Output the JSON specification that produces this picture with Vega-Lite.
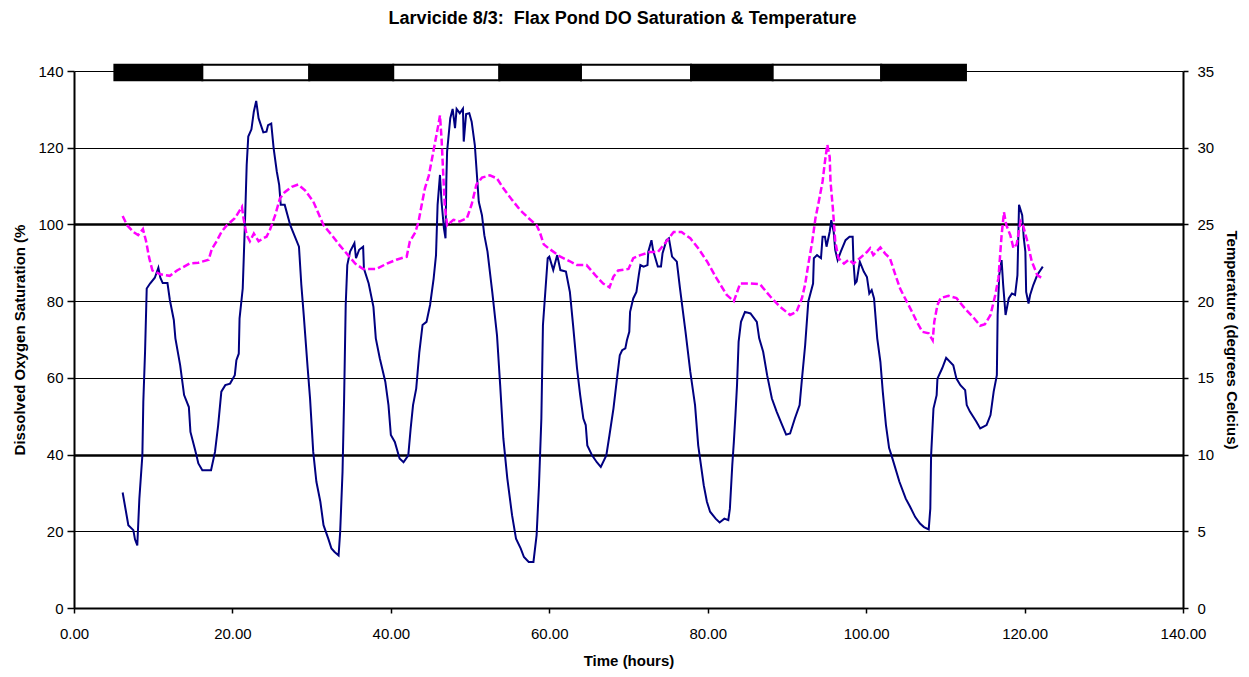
{
  "$schema": "https://vega.github.io/schema/vega-lite/v6.json",
  "width": 1109,
  "height": 537,
  "autosize": {"type": "none"},
  "padding": {"left": 74, "top": 71, "right": 66, "bottom": 69},
  "background": "white",
  "config": {"view": {"stroke": null}, "font": "Liberation Sans"},
  "title": {"text": "Larvicide 8/3:\u00a0 Flax Pond DO Saturation & Temperature", "fontSize": 18, "fontWeight": "bold", "font": "Liberation Sans", "anchor": "middle", "offset": 36, "dx": -6, "color": "black"},
  "datasets": {
    "bars": [
      {"start": 5.1, "end": 16.2, "phase": "night", "lo": 137.6, "hi": 141.6},
      {"start": 16.2, "end": 29.7, "phase": "day", "lo": 137.6, "hi": 141.6},
      {"start": 29.7, "end": 40.3, "phase": "night", "lo": 137.6, "hi": 141.6},
      {"start": 40.3, "end": 53.7, "phase": "day", "lo": 137.6, "hi": 141.6},
      {"start": 53.7, "end": 64.0, "phase": "night", "lo": 137.6, "hi": 141.6},
      {"start": 64.0, "end": 77.9, "phase": "day", "lo": 137.6, "hi": 141.6},
      {"start": 77.9, "end": 88.2, "phase": "night", "lo": 137.6, "hi": 141.6},
      {"start": 88.2, "end": 101.9, "phase": "day", "lo": 137.6, "hi": 141.6},
      {"start": 101.9, "end": 112.6, "phase": "night", "lo": 137.6, "hi": 141.6}
    ],
    "do": [
      {"hour": 6.14, "do": 30.1}, {"hour": 6.86, "do": 21.6}, {"hour": 7.49, "do": 20.3}, {"hour": 7.7, "do": 17.9}, {"hour": 7.99, "do": 16.3},
      {"hour": 8.25, "do": 28.5}, {"hour": 8.63, "do": 39.8}, {"hour": 8.75, "do": 53.7}, {"hour": 8.97, "do": 66.8}, {"hour": 9.18, "do": 83.3},
      {"hour": 9.6, "do": 84.6}, {"hour": 10.2, "do": 86.1}, {"hour": 10.65, "do": 88.7}, {"hour": 10.9, "do": 86.1}, {"hour": 11.2, "do": 84.7},
      {"hour": 11.8, "do": 84.7}, {"hour": 12.1, "do": 80.3}, {"hour": 12.6, "do": 75.1}, {"hour": 12.8, "do": 70.3}, {"hour": 13.4, "do": 63.3},
      {"hour": 13.9, "do": 55.5}, {"hour": 14.5, "do": 52.4}, {"hour": 14.7, "do": 45.9}, {"hour": 15.3, "do": 41.1}, {"hour": 15.7, "do": 37.7},
      {"hour": 16.2, "do": 35.9}, {"hour": 17.3, "do": 35.9}, {"hour": 17.8, "do": 40.7}, {"hour": 18.2, "do": 47.7}, {"hour": 18.6, "do": 56.4},
      {"hour": 19.1, "do": 58.1}, {"hour": 19.7, "do": 58.5}, {"hour": 20.3, "do": 60.7}, {"hour": 20.5, "do": 64.6}, {"hour": 20.8, "do": 66.3},
      {"hour": 20.9, "do": 75.5}, {"hour": 21.3, "do": 83.3}, {"hour": 21.6, "do": 101.6}, {"hour": 21.8, "do": 115.5}, {"hour": 22.0, "do": 122.9},
      {"hour": 22.4, "do": 124.8}, {"hour": 22.7, "do": 129.4}, {"hour": 23.0, "do": 132.2}, {"hour": 23.3, "do": 127.7}, {"hour": 23.9, "do": 124.0},
      {"hour": 24.3, "do": 124.2}, {"hour": 24.5, "do": 125.9}, {"hour": 24.9, "do": 126.3}, {"hour": 25.2, "do": 119.9}, {"hour": 25.6, "do": 113.8},
      {"hour": 25.9, "do": 110.3}, {"hour": 26.1, "do": 105.1}, {"hour": 26.6, "do": 105.1}, {"hour": 27.3, "do": 99.8}, {"hour": 28.4, "do": 94.2},
      {"hour": 28.7, "do": 84.2}, {"hour": 29.0, "do": 76.4}, {"hour": 29.5, "do": 62.5}, {"hour": 29.8, "do": 54.6}, {"hour": 30.2, "do": 40.7},
      {"hour": 30.6, "do": 32.9}, {"hour": 31.1, "do": 27.7}, {"hour": 31.5, "do": 21.6}, {"hour": 32.1, "do": 18.1}, {"hour": 32.5, "do": 15.5},
      {"hour": 32.9, "do": 14.6}, {"hour": 33.4, "do": 13.7}, {"hour": 33.6, "do": 19.8}, {"hour": 33.9, "do": 35.5}, {"hour": 34.1, "do": 54.6},
      {"hour": 34.3, "do": 79.0}, {"hour": 34.5, "do": 89.4}, {"hour": 34.85, "do": 92.9}, {"hour": 35.4, "do": 95.1}, {"hour": 35.6, "do": 91.2},
      {"hour": 36.0, "do": 93.4}, {"hour": 36.5, "do": 94.2}, {"hour": 36.6, "do": 88.5}, {"hour": 37.2, "do": 84.6}, {"hour": 37.8, "do": 78.5},
      {"hour": 38.1, "do": 70.3}, {"hour": 38.6, "do": 65.1}, {"hour": 39.3, "do": 59.0}, {"hour": 39.7, "do": 52.9}, {"hour": 40.0, "do": 45.1},
      {"hour": 40.5, "do": 43.3}, {"hour": 41.1, "do": 39.0}, {"hour": 41.6, "do": 38.0}, {"hour": 42.2, "do": 39.8}, {"hour": 42.5, "do": 46.8},
      {"hour": 42.8, "do": 52.9}, {"hour": 43.2, "do": 57.2}, {"hour": 43.6, "do": 66.8}, {"hour": 44.0, "do": 73.8}, {"hour": 44.5, "do": 74.6},
      {"hour": 44.95, "do": 79.0}, {"hour": 45.4, "do": 85.9}, {"hour": 45.7, "do": 92.0}, {"hour": 45.9, "do": 105.1}, {"hour": 46.2, "do": 112.9},
      {"hour": 46.4, "do": 105.9}, {"hour": 46.7, "do": 99.0}, {"hour": 46.9, "do": 96.4}, {"hour": 47.0, "do": 111.1}, {"hour": 47.1, "do": 119.0},
      {"hour": 47.5, "do": 127.7}, {"hour": 47.8, "do": 130.1}, {"hour": 48.1, "do": 125.1}, {"hour": 48.3, "do": 130.1}, {"hour": 48.7, "do": 129.0},
      {"hour": 49.1, "do": 130.2}, {"hour": 49.2, "do": 121.6}, {"hour": 49.5, "do": 128.8}, {"hour": 49.9, "do": 129.0}, {"hour": 50.2, "do": 126.8},
      {"hour": 50.6, "do": 120.7}, {"hour": 51.1, "do": 105.9}, {"hour": 51.5, "do": 102.4}, {"hour": 51.8, "do": 97.2}, {"hour": 52.2, "do": 92.9},
      {"hour": 52.8, "do": 82.4}, {"hour": 53.4, "do": 71.1}, {"hour": 53.8, "do": 58.1}, {"hour": 54.2, "do": 44.2}, {"hour": 54.7, "do": 33.8},
      {"hour": 55.3, "do": 24.2}, {"hour": 55.8, "do": 18.1}, {"hour": 56.4, "do": 15.5}, {"hour": 56.8, "do": 13.3}, {"hour": 57.4, "do": 12.0},
      {"hour": 58.0, "do": 12.0}, {"hour": 58.4, "do": 19.0}, {"hour": 58.7, "do": 32.0}, {"hour": 59.0, "do": 49.4}, {"hour": 59.2, "do": 73.8},
      {"hour": 59.8, "do": 91.2}, {"hour": 60.0, "do": 91.6}, {"hour": 60.5, "do": 88.1}, {"hour": 61.0, "do": 92.0}, {"hour": 61.4, "do": 88.1},
      {"hour": 62.1, "do": 87.7}, {"hour": 62.6, "do": 82.4}, {"hour": 63.0, "do": 73.8}, {"hour": 63.5, "do": 62.5}, {"hour": 63.9, "do": 55.5},
      {"hour": 64.3, "do": 49.4}, {"hour": 64.6, "do": 47.7}, {"hour": 64.8, "do": 42.4}, {"hour": 65.4, "do": 39.8}, {"hour": 66.0, "do": 38.0},
      {"hour": 66.5, "do": 36.8}, {"hour": 67.2, "do": 39.8}, {"hour": 67.6, "do": 45.1}, {"hour": 68.1, "do": 52.0}, {"hour": 68.5, "do": 59.0},
      {"hour": 68.9, "do": 65.9}, {"hour": 69.2, "do": 67.2}, {"hour": 69.6, "do": 67.7}, {"hour": 69.8, "do": 69.8}, {"hour": 70.1, "do": 72.0},
      {"hour": 70.2, "do": 77.2}, {"hour": 70.6, "do": 80.7}, {"hour": 71.0, "do": 82.4}, {"hour": 71.3, "do": 86.8}, {"hour": 71.5, "do": 89.4},
      {"hour": 71.9, "do": 89.0}, {"hour": 72.4, "do": 89.4}, {"hour": 72.5, "do": 92.9}, {"hour": 72.9, "do": 95.9}, {"hour": 73.1, "do": 93.3},
      {"hour": 73.7, "do": 89.0}, {"hour": 74.1, "do": 89.0}, {"hour": 74.3, "do": 92.5}, {"hour": 74.8, "do": 95.9}, {"hour": 75.1, "do": 96.4},
      {"hour": 75.5, "do": 91.6}, {"hour": 76.1, "do": 90.3}, {"hour": 76.5, "do": 83.3}, {"hour": 77.2, "do": 72.0}, {"hour": 77.8, "do": 61.6},
      {"hour": 78.4, "do": 52.9}, {"hour": 78.8, "do": 42.4}, {"hour": 79.5, "do": 32.0}, {"hour": 79.9, "do": 27.7}, {"hour": 80.3, "do": 25.1},
      {"hour": 81.0, "do": 23.3}, {"hour": 81.5, "do": 22.3}, {"hour": 82.1, "do": 23.3}, {"hour": 82.6, "do": 22.9}, {"hour": 82.8, "do": 25.9},
      {"hour": 83.1, "do": 37.2}, {"hour": 83.3, "do": 43.3}, {"hour": 83.5, "do": 50.3}, {"hour": 83.7, "do": 58.1}, {"hour": 83.9, "do": 69.4},
      {"hour": 84.2, "do": 74.6}, {"hour": 84.7, "do": 77.2}, {"hour": 85.4, "do": 76.8}, {"hour": 86.2, "do": 74.6}, {"hour": 86.5, "do": 70.3},
      {"hour": 87.0, "do": 66.8}, {"hour": 87.5, "do": 60.7}, {"hour": 88.1, "do": 54.6}, {"hour": 88.7, "do": 51.2}, {"hour": 89.4, "do": 47.7},
      {"hour": 89.9, "do": 45.2}, {"hour": 90.4, "do": 45.5}, {"hour": 91.0, "do": 49.4}, {"hour": 91.6, "do": 52.9}, {"hour": 91.9, "do": 59.8},
      {"hour": 92.3, "do": 68.5}, {"hour": 92.7, "do": 79.9}, {"hour": 93.3, "do": 84.6}, {"hour": 93.4, "do": 91.2}, {"hour": 93.8, "do": 92.0},
      {"hour": 94.3, "do": 91.2}, {"hour": 94.5, "do": 96.8}, {"hour": 94.8, "do": 96.8}, {"hour": 95.0, "do": 94.2}, {"hour": 95.4, "do": 98.1},
      {"hour": 95.6, "do": 101.1}, {"hour": 95.9, "do": 98.1}, {"hour": 96.1, "do": 93.3}, {"hour": 96.4, "do": 90.7}, {"hour": 96.8, "do": 92.9},
      {"hour": 97.4, "do": 95.9}, {"hour": 97.9, "do": 96.8}, {"hour": 98.3, "do": 96.8}, {"hour": 98.4, "do": 90.3}, {"hour": 98.6, "do": 84.6},
      {"hour": 98.8, "do": 85.1}, {"hour": 99.2, "do": 90.3}, {"hour": 99.7, "do": 87.7}, {"hour": 100.1, "do": 86.3}, {"hour": 100.4, "do": 82.0},
      {"hour": 100.7, "do": 82.9}, {"hour": 101.0, "do": 80.7}, {"hour": 101.4, "do": 70.3}, {"hour": 101.8, "do": 64.2}, {"hour": 102.1, "do": 56.4},
      {"hour": 102.5, "do": 47.7}, {"hour": 102.9, "do": 41.7}, {"hour": 103.2, "do": 39.8}, {"hour": 104.2, "do": 32.9}, {"hour": 105.0, "do": 28.5},
      {"hour": 105.5, "do": 26.6}, {"hour": 106.2, "do": 23.7}, {"hour": 106.8, "do": 22.0}, {"hour": 107.3, "do": 21.1}, {"hour": 107.9, "do": 20.5},
      {"hour": 108.1, "do": 25.9}, {"hour": 108.2, "do": 39.8}, {"hour": 108.5, "do": 52.0}, {"hour": 108.9, "do": 55.5}, {"hour": 109.0, "do": 59.8},
      {"hour": 109.6, "do": 62.5}, {"hour": 110.1, "do": 65.2}, {"hour": 111.0, "do": 63.3}, {"hour": 111.4, "do": 59.8}, {"hour": 111.9, "do": 58.1},
      {"hour": 112.5, "do": 56.8}, {"hour": 112.7, "do": 52.9}, {"hour": 113.1, "do": 51.2}, {"hour": 113.9, "do": 48.6}, {"hour": 114.4, "do": 46.8},
      {"hour": 115.2, "do": 47.7}, {"hour": 115.7, "do": 50.3}, {"hour": 116.1, "do": 56.4}, {"hour": 116.5, "do": 60.7}, {"hour": 116.6, "do": 76.4},
      {"hour": 116.8, "do": 86.8}, {"hour": 117.1, "do": 90.7}, {"hour": 117.3, "do": 84.2}, {"hour": 117.6, "do": 76.4}, {"hour": 118.0, "do": 80.7},
      {"hour": 118.4, "do": 82.0}, {"hour": 118.8, "do": 81.6}, {"hour": 119.1, "do": 86.8}, {"hour": 119.3, "do": 105.1}, {"hour": 119.7, "do": 102.4},
      {"hour": 119.9, "do": 96.4}, {"hour": 120.1, "do": 92.9}, {"hour": 120.2, "do": 82.4}, {"hour": 120.5, "do": 79.4}, {"hour": 120.7, "do": 81.6},
      {"hour": 121.1, "do": 84.2}, {"hour": 121.6, "do": 86.8}, {"hour": 122.3, "do": 89.0}
    ],
    "temp": [
      {"hour": 6.14, "temp": 25.55}, {"hour": 6.7, "temp": 24.95}, {"hour": 7.5, "temp": 24.5}, {"hour": 8.1, "temp": 24.3}, {"hour": 8.7, "temp": 24.7},
      {"hour": 9.1, "temp": 23.9}, {"hour": 9.5, "temp": 22.8}, {"hour": 9.9, "temp": 22.0}, {"hour": 10.9, "temp": 21.75}, {"hour": 12.1, "temp": 21.65},
      {"hour": 13.0, "temp": 22.0}, {"hour": 14.6, "temp": 22.45}, {"hour": 15.7, "temp": 22.5}, {"hour": 17.0, "temp": 22.7}, {"hour": 17.4, "temp": 23.4},
      {"hour": 18.0, "temp": 23.9}, {"hour": 18.6, "temp": 24.5}, {"hour": 19.3, "temp": 24.95}, {"hour": 20.3, "temp": 25.4}, {"hour": 21.2, "temp": 26.15},
      {"hour": 21.4, "temp": 25.4}, {"hour": 21.8, "temp": 24.3}, {"hour": 22.2, "temp": 23.9}, {"hour": 22.7, "temp": 24.4}, {"hour": 23.3, "temp": 23.9},
      {"hour": 23.9, "temp": 24.1}, {"hour": 24.3, "temp": 24.2}, {"hour": 24.7, "temp": 24.6}, {"hour": 25.4, "temp": 25.6}, {"hour": 26.0, "temp": 26.7},
      {"hour": 26.6, "temp": 27.1}, {"hour": 27.5, "temp": 27.45}, {"hour": 28.3, "temp": 27.6}, {"hour": 29.2, "temp": 27.2}, {"hour": 30.2, "temp": 26.5},
      {"hour": 31.5, "temp": 24.95}, {"hour": 32.7, "temp": 24.2}, {"hour": 33.6, "temp": 23.6}, {"hour": 34.6, "temp": 23.0}, {"hour": 35.5, "temp": 22.45},
      {"hour": 36.5, "temp": 22.1}, {"hour": 38.2, "temp": 22.1}, {"hour": 39.5, "temp": 22.45}, {"hour": 40.7, "temp": 22.7}, {"hour": 42.0, "temp": 22.9},
      {"hour": 42.4, "temp": 23.9}, {"hour": 43.1, "temp": 24.5}, {"hour": 43.5, "temp": 25.2}, {"hour": 43.9, "temp": 26.3}, {"hour": 44.3, "temp": 27.35},
      {"hour": 44.8, "temp": 28.2}, {"hour": 45.2, "temp": 29.3}, {"hour": 45.6, "temp": 30.4}, {"hour": 46.0, "temp": 31.5}, {"hour": 46.2, "temp": 32.1},
      {"hour": 46.4, "temp": 30.6}, {"hour": 46.6, "temp": 28.4}, {"hour": 46.8, "temp": 26.3}, {"hour": 47.1, "temp": 24.95}, {"hour": 47.9, "temp": 25.3},
      {"hour": 48.7, "temp": 25.2}, {"hour": 49.6, "temp": 25.4}, {"hour": 50.2, "temp": 26.3}, {"hour": 50.8, "temp": 27.6}, {"hour": 51.5, "temp": 28.05},
      {"hour": 52.5, "temp": 28.2}, {"hour": 53.4, "temp": 28.0}, {"hour": 54.2, "temp": 27.35}, {"hour": 55.3, "temp": 26.6}, {"hour": 56.3, "temp": 25.95},
      {"hour": 57.4, "temp": 25.4}, {"hour": 58.4, "temp": 24.95}, {"hour": 58.8, "temp": 24.5}, {"hour": 59.3, "temp": 23.7}, {"hour": 59.9, "temp": 23.45},
      {"hour": 61.4, "temp": 22.9}, {"hour": 62.6, "temp": 22.6}, {"hour": 63.5, "temp": 22.35}, {"hour": 64.7, "temp": 22.35}, {"hour": 65.8, "temp": 21.7},
      {"hour": 66.8, "temp": 21.15}, {"hour": 67.6, "temp": 20.9}, {"hour": 68.1, "temp": 21.6}, {"hour": 68.7, "temp": 22.0}, {"hour": 70.0, "temp": 22.1},
      {"hour": 70.6, "temp": 22.8}, {"hour": 71.5, "temp": 23.0}, {"hour": 72.7, "temp": 23.2}, {"hour": 73.7, "temp": 23.2}, {"hour": 74.8, "temp": 23.9},
      {"hour": 75.7, "temp": 24.5}, {"hour": 76.7, "temp": 24.5}, {"hour": 77.8, "temp": 24.1}, {"hour": 78.8, "temp": 23.45}, {"hour": 79.9, "temp": 22.6},
      {"hour": 81.1, "temp": 21.5}, {"hour": 82.4, "temp": 20.4}, {"hour": 83.3, "temp": 20.0}, {"hour": 84.1, "temp": 21.15}, {"hour": 85.4, "temp": 21.15},
      {"hour": 86.6, "temp": 21.1}, {"hour": 87.9, "temp": 20.3}, {"hour": 89.1, "temp": 19.65}, {"hour": 90.4, "temp": 19.1}, {"hour": 91.2, "temp": 19.3},
      {"hour": 91.9, "temp": 20.2}, {"hour": 92.3, "temp": 21.1}, {"hour": 92.7, "temp": 22.4}, {"hour": 93.2, "temp": 23.9}, {"hour": 93.6, "temp": 25.4},
      {"hour": 94.1, "temp": 26.7}, {"hour": 94.5, "temp": 27.8}, {"hour": 94.8, "temp": 29.1}, {"hour": 95.1, "temp": 30.2}, {"hour": 95.4, "temp": 29.4},
      {"hour": 95.5, "temp": 27.8}, {"hour": 95.8, "temp": 26.05}, {"hour": 96.1, "temp": 23.9}, {"hour": 96.5, "temp": 22.8}, {"hour": 97.2, "temp": 22.45},
      {"hour": 97.8, "temp": 22.7}, {"hour": 98.4, "temp": 22.45}, {"hour": 99.2, "temp": 22.8}, {"hour": 100.1, "temp": 23.2}, {"hour": 100.5, "temp": 23.45},
      {"hour": 100.9, "temp": 23.0}, {"hour": 101.8, "temp": 23.5}, {"hour": 102.4, "temp": 23.1}, {"hour": 103.0, "temp": 22.8}, {"hour": 103.7, "temp": 21.7},
      {"hour": 104.3, "temp": 20.8}, {"hour": 105.1, "temp": 20.0}, {"hour": 105.8, "temp": 19.3}, {"hour": 106.4, "temp": 18.65}, {"hour": 107.1, "temp": 18.0},
      {"hour": 107.9, "temp": 17.9}, {"hour": 108.4, "temp": 17.45}, {"hour": 108.6, "temp": 18.65}, {"hour": 109.0, "temp": 19.75}, {"hour": 109.4, "temp": 20.2},
      {"hour": 110.4, "temp": 20.35}, {"hour": 111.4, "temp": 20.2}, {"hour": 112.5, "temp": 19.5}, {"hour": 113.6, "temp": 18.9}, {"hour": 114.4, "temp": 18.4},
      {"hour": 115.0, "temp": 18.5}, {"hour": 115.7, "temp": 19.1}, {"hour": 116.3, "temp": 20.4}, {"hour": 116.7, "temp": 21.5}, {"hour": 117.1, "temp": 24.3},
      {"hour": 117.4, "temp": 25.8}, {"hour": 117.7, "temp": 24.95}, {"hour": 118.2, "temp": 24.3}, {"hour": 118.6, "temp": 23.45}, {"hour": 119.0, "temp": 23.7},
      {"hour": 119.5, "temp": 25.2}, {"hour": 119.8, "temp": 24.95}, {"hour": 120.3, "temp": 24.0}, {"hour": 120.9, "temp": 22.6}, {"hour": 121.6, "temp": 21.7},
      {"hour": 122.2, "temp": 21.5}
    ]
  },
  "layer": [
    {
      "layer": [
        {
          "data": {"name": "bars"},
          "mark": {"type": "rect", "stroke": "black", "strokeWidth": 2},
          "encoding": {
            "x": {
              "field": "start", "type": "quantitative",
              "scale": {"domain": [0, 140], "nice": false},
              "axis": {
                "values": [0, 20, 40, 60, 80, 100, 120, 140], "format": ".2f", "title": "Time (hours)", "grid": false,
                "labelFontSize": 15, "labelFont": "Liberation Sans", "labelColor": "black",
                "titleFontSize": 15, "titleFont": "Liberation Sans", "titleFontWeight": "bold", "titleColor": "black",
                "domainColor": "black", "domainWidth": 2, "tickColor": "black", "tickWidth": 1.5, "tickSize": 5,
                "labelPadding": 13, "titlePadding": 12, "labelFlush": false
              }
            },
            "x2": {"field": "end"},
            "y": {
              "field": "lo", "type": "quantitative",
              "scale": {"domain": [0, 140], "nice": false},
              "axis": {
                "values": [0, 20, 40, 60, 80, 100, 120, 140], "title": "Dissolved Oxygen Saturation (%", "grid": true,
                "gridColor": "black", "gridOpacity": 1,
                "gridWidth": {"condition": {"test": "datum.value === 100 || datum.value === 40", "value": 2.5}, "value": 1},
                "labelFontSize": 15, "labelFont": "Liberation Sans", "labelColor": "black",
                "titleFontSize": 15, "titleFont": "Liberation Sans", "titleFontWeight": "bold", "titleColor": "black",
                "domainColor": "black", "domainWidth": 2, "tickColor": "black", "tickWidth": 1.5, "tickSize": 7,
                "labelPadding": 4, "titlePadding": 10
              }
            },
            "y2": {"field": "hi"},
            "fill": {"field": "phase", "type": "nominal", "scale": {"domain": ["night", "day"], "range": ["black", "white"]}, "legend": null}
          }
        },
        {
          "data": {"name": "do"},
          "mark": {"type": "line", "color": "#000080", "strokeWidth": 2},
          "encoding": {
            "x": {
              "field": "hour", "type": "quantitative",
              "scale": {"domain": [0, 140], "nice": false},
              "axis": {
                "values": [0, 20, 40, 60, 80, 100, 120, 140], "format": ".2f", "title": "Time (hours)", "grid": false,
                "labelFontSize": 15, "labelFont": "Liberation Sans", "labelColor": "black",
                "titleFontSize": 15, "titleFont": "Liberation Sans", "titleFontWeight": "bold", "titleColor": "black",
                "domainColor": "black", "domainWidth": 2, "tickColor": "black", "tickWidth": 1.5, "tickSize": 5,
                "labelPadding": 13, "titlePadding": 12, "labelFlush": false
              }
            },
            "y": {
              "field": "do", "type": "quantitative",
              "scale": {"domain": [0, 140], "nice": false},
              "axis": {
                "values": [0, 20, 40, 60, 80, 100, 120, 140], "title": "Dissolved Oxygen Saturation (%", "grid": true,
                "gridColor": "black", "gridOpacity": 1,
                "gridWidth": {"condition": {"test": "datum.value === 100 || datum.value === 40", "value": 2.5}, "value": 1},
                "labelFontSize": 15, "labelFont": "Liberation Sans", "labelColor": "black",
                "titleFontSize": 15, "titleFont": "Liberation Sans", "titleFontWeight": "bold", "titleColor": "black",
                "domainColor": "black", "domainWidth": 2, "tickColor": "black", "tickWidth": 1.5, "tickSize": 7,
                "labelPadding": 4, "titlePadding": 10
              }
            }
          }
        }
      ]
    },
    {
      "data": {"name": "temp"},
      "mark": {"type": "line", "color": "#FF00FF", "strokeWidth": 2.5, "strokeDash": [7, 3]},
      "encoding": {
        "x": {
          "field": "hour", "type": "quantitative",
          "scale": {"domain": [0, 140], "nice": false},
          "axis": {
            "values": [0, 20, 40, 60, 80, 100, 120, 140], "format": ".2f", "title": "Time (hours)", "grid": false,
            "labelFontSize": 15, "labelFont": "Liberation Sans", "labelColor": "black",
            "titleFontSize": 15, "titleFont": "Liberation Sans", "titleFontWeight": "bold", "titleColor": "black",
            "domainColor": "black", "domainWidth": 2, "tickColor": "black", "tickWidth": 1.5, "tickSize": 5,
            "labelPadding": 13, "titlePadding": 12, "labelFlush": false
          }
        },
        "y": {
          "field": "temp", "type": "quantitative",
          "scale": {"domain": [0, 35], "nice": false},
          "axis": {
            "orient": "right", "values": [0, 5, 10, 15, 20, 25, 30, 35], "title": "Temperature (degrees Celcius)", "grid": false,
            "labelFontSize": 15, "labelFont": "Liberation Sans", "labelColor": "black",
            "titleFontSize": 15, "titleFont": "Liberation Sans", "titleFontWeight": "bold", "titleColor": "black",
            "domainColor": "black", "domainWidth": 2, "tickColor": "black", "tickWidth": 1.5, "tickSize": 5,
            "labelPadding": 9, "titlePadding": 10
          }
        }
      }
    }
  ],
  "resolve": {"scale": {"y": "independent"}}
}
